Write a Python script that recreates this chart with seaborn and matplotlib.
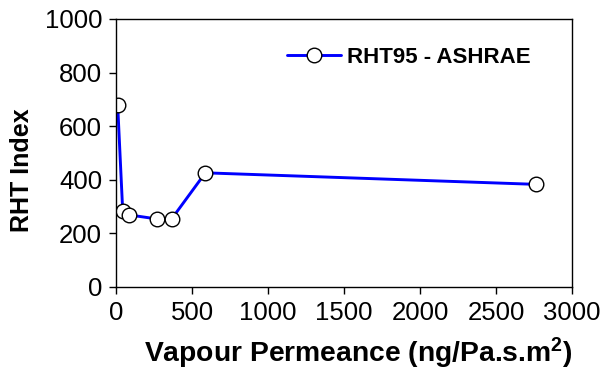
import matplotlib
matplotlib.use("Agg")
import matplotlib.pyplot as plt
import seaborn as sns
import pandas as pd

permeance = [11, 44, 86, 268, 366, 588, 2763]
rht_index = [679, 285, 269, 254, 254, 426, 383]
series_name = "RHT95 - ASHRAE"
x_ticks = [0, 500, 1000, 1500, 2000, 2500, 3000]
y_ticks = [0, 200, 400, 600, 800, 1000]

df = pd.DataFrame({"x": permeance, "y": rht_index, "s": series_name})

sns.set_theme(style="ticks")
plt.rcParams["font.family"] = ["Liberation Sans", "DejaVu Sans"]
plt.rcParams["mathtext.fontset"] = "custom"
plt.rcParams["mathtext.rm"] = "Liberation Sans"
plt.rcParams["mathtext.bf"] = "Liberation Sans:bold"
plt.rcParams["text.color"] = "black"
plt.rcParams["axes.labelcolor"] = "black"

fig = plt.figure(figsize=(6.05, 3.73), dpi=100)
ax = fig.add_axes([116/605, 1-287/373, (572-116)/605, (287-19)/373])

sns.lineplot(data=df, x="x", y="y", hue="s", palette=["#0000ff"], sort=False,
             marker="o", markersize=10.5, markerfacecolor="white",
             markeredgecolor="black", markeredgewidth=1.0, linewidth=2.1, ax=ax)

ax.set_xlim(0, 3000)
ax.set_ylim(0, 1000)
ax.set_xticks(x_ticks)
ax.set_yticks(y_ticks)
ax.tick_params(axis="both", labelsize=18.5, direction="out", length=5, width=1,
               colors="black", labelcolor="black", pad=5)
for sp in ax.spines.values():
    sp.set_visible(True)
    sp.set_color("black")
    sp.set_linewidth(1.0)

ax.set_xlabel("Vapour Permeance (ng/Pa.s.m$\\mathbf{^2}$)", fontsize=20.3, fontweight="bold")
ax.set_ylabel("RHT Index", fontsize=18, fontweight="bold")
ax.xaxis.set_label_coords((358-116)/456, (287-336)/268)
ax.yaxis.set_label_coords((34-116)/456, (287-170)/268)

leg = ax.legend(loc="upper left", bbox_to_anchor=(0.356, 0.93), frameon=False,
                fontsize=16, handlelength=2.4, handletextpad=0.3, borderaxespad=0)
for t in leg.get_texts():
    t.set_fontweight("bold")
    t.set_color("black")

fig.savefig("out.png", dpi=100)
